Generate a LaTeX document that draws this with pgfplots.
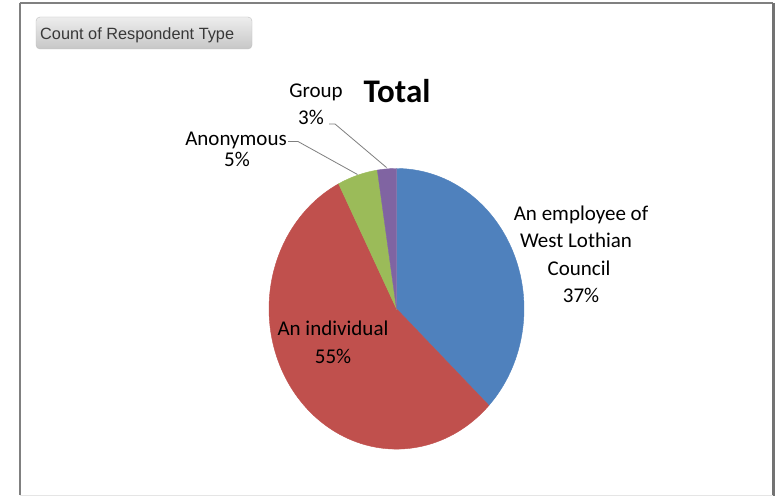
\documentclass[border=0pt]{standalone}
\usepackage{pgfplots}
\usepackage{pgfplotstable}
\pgfplotsset{compat=1.18}
\usepackage{fontspec}
\setmainfont{Carlito}
\newfontfamily\btnfont{Liberation Sans}

\definecolor{sblue}{HTML}{4F81BD}
\definecolor{sred}{HTML}{C0504D}
\definecolor{sgreen}{HTML}{9BBB59}
\definecolor{spurple}{HTML}{8064A2}
\definecolor{lead}{HTML}{7F7F7F}

% share of respondents, per cent, clockwise from 12 o'clock
\pgfplotstableread{
type share
employee 37.1
individual 55.4
anonymous 5.1
group 2.4
}\shares

\pgfplotstablegetelem{0}{share}\of\shares \let\sA\pgfplotsretval
\pgfplotstablegetelem{1}{share}\of\shares \let\sB\pgfplotsretval
\pgfplotstablegetelem{2}{share}\of\shares \let\sC\pgfplotsretval
\pgfplotstablegetelem{3}{share}\of\shares \let\sD\pgfplotsretval
\pgfmathsetmacro\aA{3.6*\sA}
\pgfmathsetmacro\aB{\aA+3.6*\sB}
\pgfmathsetmacro\aC{\aB+3.6*\sC}
\pgfmathsetmacro\aD{\aC+3.6*\sD}

% pie centre and radii in pixel units
\def\cx{396.5}
\def\cy{308.8}
\def\rx{127.5}
\def\ry{140.3}

\begin{document}
\begin{tikzpicture}
\begin{axis}[
    scale only axis,
    width=776pt, height=496pt,
    xmin=0, xmax=776, ymin=0, ymax=496,
    y dir=reverse,
    hide axis,
    clip=false,
    every axis plot/.append style={line width=0.4pt},
]
\path[fill=white] (axis cs:0,0) rectangle (axis cs:776,496);
% chart frame
\draw[draw=black!50, line width=1.6pt] (axis cs:19.5,3) -- (axis cs:773,3);
\draw[draw=black!50, line width=2pt] (axis cs:19.5,3) -- (axis cs:19.5,495);
\draw[draw=black!55, line width=3pt] (axis cs:773.5,3) -- (axis cs:773.5,495.5);
\draw[draw=black!10, line width=1pt] (axis cs:19.5,495) -- (axis cs:773,495);

% field button
\shade[top color=black!7, bottom color=black!22, draw=black!25, rounded corners=4pt]
  (axis cs:36,17) rectangle (axis cs:252,49);
\node[anchor=base west, inner sep=0pt, text=black!78, font=\btnfont\fontsize{16.3}{19}\selectfont]
  at (axis cs:40,39.5) {Count of Respondent Type};

% slices
\addplot[fill=sblue, draw=sblue, domain=0:\aA, samples=80, variable=\t]
  ({\cx+\rx*sin(\t)}, {\cy-\ry*cos(\t)}) -- (axis cs:\cx,\cy) -- cycle;
\addplot[fill=sred, draw=sred, domain=\aA:\aB, samples=100, variable=\t]
  ({\cx+\rx*sin(\t)}, {\cy-\ry*cos(\t)}) -- (axis cs:\cx,\cy) -- cycle;
\addplot[fill=sgreen, draw=sgreen, domain=\aB:\aC, samples=20, variable=\t]
  ({\cx+\rx*sin(\t)}, {\cy-\ry*cos(\t)}) -- (axis cs:\cx,\cy) -- cycle;
\addplot[fill=spurple, draw=spurple, domain=\aC:\aD, samples=12, variable=\t]
  ({\cx+\rx*sin(\t)}, {\cy-\ry*cos(\t)}) -- (axis cs:\cx,\cy) -- cycle;

% leader lines
\draw[lead, line width=0.8pt] (axis cs:288,141.5) -- (axis cs:298,141.5) -- (axis cs:357.5,174.5);
\draw[lead, line width=0.8pt] (axis cs:329,124) -- (axis cs:335,124) -- (axis cs:386.5,167.5);

% title
\node[anchor=base, inner sep=0pt, font=\bfseries\fontsize{33}{36}\selectfont]
  at (axis cs:397,103) {Total};

% data labels
\begin{scope}[every node/.style={anchor=base, inner sep=0pt, font=\fontsize{21}{25}\selectfont}]
\node at (axis cs:581,220) {An employee of};
\node at (axis cs:576,247.5) {West Lothian};
\node at (axis cs:579,275) {Council};
\node at (axis cs:581,302.5) {37\%};
\node at (axis cs:333,335) {An individual};
\node at (axis cs:333,363) {55\%};
\node at (axis cs:236,146) {Anonymous};
\node at (axis cs:237,167) {5\%};
\node at (axis cs:316,98) {Group};
\node at (axis cs:311,125) {3\%};
\end{scope}
\end{axis}
\end{tikzpicture}
\end{document}
